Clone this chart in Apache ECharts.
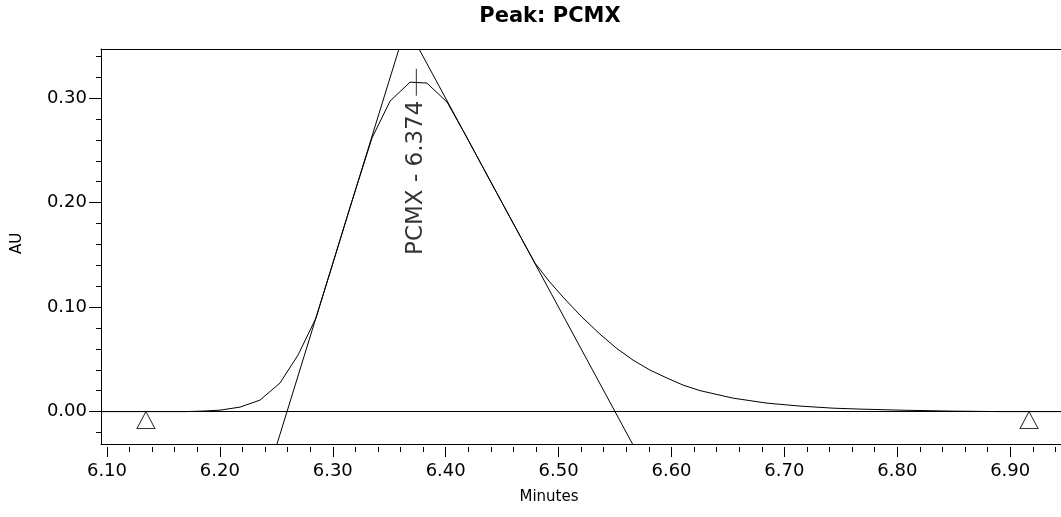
<!DOCTYPE html>
<html>
<head>
<meta charset="utf-8">
<script src="https://cdn.jsdelivr.net/npm/echarts@6/dist/echarts.min.js"></script>
<style>
html,body{margin:0;padding:0;background:#fff;}
#chart{width:1061px;height:517px;}
</style>
</head>
<body>
<div id="chart"></div>
<script>
// ---- text ----
const titleText = 'Peak: PCMX';
const xAxisName = 'Minutes';
const yAxisName = 'AU';
const peakName = 'PCMX';

// ---- chromatogram trace (minutes, AU) ----
const traceTimes = [6.0947, 6.170, 6.185, 6.2001, 6.2178, 6.2355, 6.2532, 6.2692, 6.2851, 6.3011,
  6.3170, 6.3347, 6.3507, 6.3684, 6.3834, 6.4012, 6.4171, 6.4330, 6.4481, 6.4640,
  6.4791, 6.4915, 6.5039, 6.5207, 6.5376, 6.5517, 6.5659, 6.5810, 6.5960, 6.6102,
  6.6252, 6.6545, 6.6846, 6.7138, 6.7430, 6.7670, 6.8024, 6.8467, 6.8910, 6.9450];
const traceAU = [0, 0, 0.0005, 0.0014, 0.0043, 0.0110, 0.0273, 0.0541, 0.0895, 0.1455,
  0.2014, 0.2617, 0.2971, 0.3153, 0.3144, 0.2962, 0.2656, 0.2336, 0.2034, 0.1718,
  0.1421, 0.1249, 0.1096, 0.0904, 0.0732, 0.0603, 0.0493, 0.0397, 0.0321, 0.0254,
  0.0201, 0.0129, 0.0081, 0.0053, 0.0033, 0.0024, 0.0014, 0.0005, 0, 0];

// ---- tangent lines at inflection points ----
const leftTangentTimes = [6.2506, 6.3586];
const leftTangentAU = [-0.031, 0.347];
const rightTangentTimes = [6.3764, 6.5655];
const rightTangentAU = [0.347, -0.031];

// ---- peak start / end markers ----
const peakBoundTimes = [6.1345, 6.9167];
const peakBoundAU = [0, 0];

// ---- peak apex annotation ----
const peakRT = 6.374;
const peakApexAU = 0.3153;

// ---- axes ----
const xMin = 6.0947, xMax = 6.945;
const yMin = -0.031, yMax = 0.347;
const xMajorTicks = [6.10, 6.20, 6.30, 6.40, 6.50, 6.60, 6.70, 6.80, 6.90];
const xMinorTicks = [6.12, 6.14, 6.16, 6.18, 6.22, 6.24, 6.26, 6.28, 6.32, 6.34, 6.36, 6.38,
  6.42, 6.44, 6.46, 6.48, 6.52, 6.54, 6.56, 6.58, 6.62, 6.64, 6.66, 6.68,
  6.72, 6.74, 6.76, 6.78, 6.82, 6.84, 6.86, 6.88, 6.92, 6.94];
const yMajorTicks = [0.00, 0.10, 0.20, 0.30];
const yMinorTicks = [-0.02, 0.02, 0.04, 0.06, 0.08, 0.12, 0.14, 0.16, 0.18,
  0.22, 0.24, 0.26, 0.28, 0.32, 0.34];

const FONT = 'DejaVu Sans';
const BLACK = '#000';

const chart = echarts.init(document.getElementById('chart'), null, {renderer: 'canvas'});

const pairs = (xs, ys) => xs.map((x, i) => [x, ys[i]]);
const fmt = v => Number(v).toFixed(2);

const baseX = {
  type: 'value', min: xMin, max: xMax, splitLine: {show: false}
};
const baseY = {
  type: 'value', min: yMin, max: yMax, splitLine: {show: false}
};

const option = {
  animation: false,
  backgroundColor: '#fff',
  title: [
    {
      text: titleText, left: 550, top: 6, textAlign: 'center', padding: 0,
      textStyle: {fontFamily: FONT, fontWeight: 'bold', fontSize: 21, color: BLACK}
    },
    {
      text: xAxisName, left: 549, top: 490, textAlign: 'center', padding: 0,
      textStyle: {fontFamily: FONT, fontWeight: 'normal', fontSize: 15, color: BLACK}
    }
  ],
  grid: {left: 101, right: 0, top: 49, bottom: 73, containLabel: false, outerBoundsMode: 'none'},
  xAxis: [
    Object.assign({}, baseX, {
      position: 'bottom',
      axisLine: {show: true, onZero: false, lineStyle: {color: BLACK, width: 1}},
      axisTick: {show: false},
      axisLabel: {customValues: xMajorTicks, formatter: fmt, margin: 18, color: BLACK,
        fontSize: 18, fontFamily: FONT}
    }),
    Object.assign({}, baseX, {
      position: 'bottom', offset: 3,
      axisLine: {show: false, onZero: false},
      axisTick: {show: true, customValues: xMajorTicks, length: 10, lineStyle: {color: BLACK, width: 1}},
      axisLabel: {show: false}
    }),
    Object.assign({}, baseX, {
      position: 'bottom', offset: 3,
      axisLine: {show: false, onZero: false},
      axisTick: {show: true, customValues: xMinorTicks, length: 5, lineStyle: {color: BLACK, width: 1}},
      axisLabel: {show: false}
    }),
    Object.assign({}, baseX, {
      position: 'top',
      axisLine: {show: true, onZero: false, lineStyle: {color: BLACK, width: 1}},
      axisTick: {show: false},
      axisLabel: {show: false}
    })
  ],
  yAxis: [
    Object.assign({}, baseY, {
      position: 'left',
      name: yAxisName, nameLocation: 'middle', nameGap: 76,
      nameTextStyle: {fontFamily: FONT, fontSize: 15, color: BLACK, padding: [0, 0, 0, 6]},
      axisLine: {show: true, onZero: false, lineStyle: {color: BLACK, width: 1}},
      axisTick: {show: true, customValues: yMajorTicks, length: 12, lineStyle: {color: BLACK, width: 1}},
      axisLabel: {customValues: yMajorTicks, formatter: fmt, margin: 14, color: BLACK,
        fontSize: 18, fontFamily: FONT, padding: [5, 0, 0, 0]}
    }),
    Object.assign({}, baseY, {
      position: 'left',
      axisLine: {show: false, onZero: false},
      axisTick: {show: true, customValues: yMinorTicks, length: 5, lineStyle: {color: BLACK, width: 1}},
      axisLabel: {show: false}
    })
  ],
  series: [
    {
      name: 'trace', type: 'line', xAxisIndex: 0, yAxisIndex: 0,
      data: pairs(traceTimes, traceAU),
      showSymbol: false, symbol: 'none', smooth: false, clip: true,
      lineStyle: {color: BLACK, width: 1},
      markLine: {
        silent: true, symbol: 'none',
        label: {show: false},
        lineStyle: {color: BLACK, width: 1, type: 'solid'},
        data: [{yAxis: 0}]
      },
      z: 3
    },
    {
      name: 'left tangent', type: 'line', xAxisIndex: 0, yAxisIndex: 0,
      data: pairs(leftTangentTimes, leftTangentAU),
      showSymbol: false, symbol: 'none', clip: true,
      lineStyle: {color: BLACK, width: 1}, z: 3
    },
    {
      name: 'right tangent', type: 'line', xAxisIndex: 0, yAxisIndex: 0,
      data: pairs(rightTangentTimes, rightTangentAU),
      showSymbol: false, symbol: 'none', clip: true,
      lineStyle: {color: BLACK, width: 1}, z: 3
    },
    {
      name: 'peak bounds', type: 'scatter', xAxisIndex: 0, yAxisIndex: 0,
      data: pairs(peakBoundTimes, peakBoundAU),
      symbol: 'triangle', symbolSize: [18, 17], symbolOffset: [0, '50%'],
      itemStyle: {color: '#fff', borderColor: BLACK, borderWidth: 1},
      clip: false, z: 4
    },
    {
      name: 'peak label', type: 'scatter', xAxisIndex: 0, yAxisIndex: 0,
      data: [[peakRT, peakApexAU]],
      symbol: 'rect', symbolSize: [1, 27],
      itemStyle: {color: BLACK},
      label: {
        show: true,
        formatter: peakName + ' - ' + peakRT.toFixed(3),
        position: [0.5, 32], rotate: 90, align: 'right', verticalAlign: 'middle',
        color: BLACK, fontFamily: FONT, fontSize: 23
      },
      clip: false, z: 5
    }
  ]
};

chart.setOption(option);
</script>
</body>
</html>
